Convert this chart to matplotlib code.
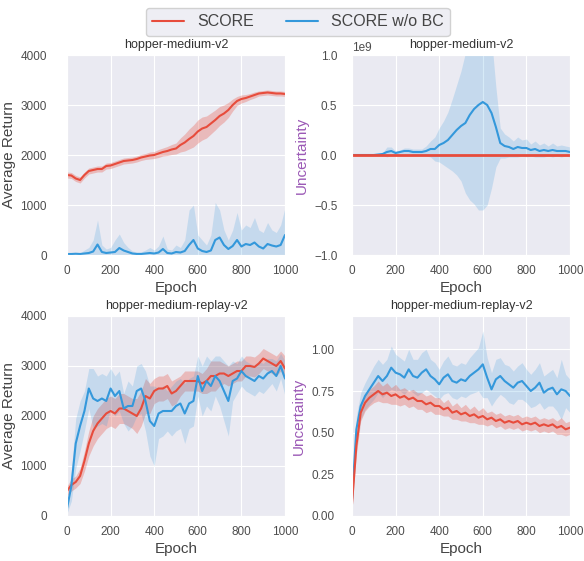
import numpy as np
import matplotlib
matplotlib.use("Agg")
import matplotlib.pyplot as plt
import seaborn as sns

sns.set_style("darkgrid")
plt.rcParams['font.family'] = ['Liberation Sans', 'DejaVu Sans']

RED = "#e74c3c"
BLUE = "#3498db"
PURPLE = "#9b59b6"

epochs = np.arange(0, 1001, 20)

# hopper-medium-v2, average return
hm_ret_score = [1600, 1590, 1530, 1500, 1600, 1680, 1700, 1720, 1720, 1780,
                1790, 1820, 1850, 1880, 1890, 1900, 1920, 1950, 1970, 1990,
                2000, 2030, 2060, 2080, 2110, 2130, 2200, 2250, 2320, 2380,
                2470, 2530, 2560, 2630, 2700, 2780, 2830, 2900, 3000, 3080,
                3120, 3140, 3170, 3200, 3230, 3240, 3250, 3240, 3230, 3230, 3220]
hm_ret_score_sd = [60, 60, 60, 60, 60, 60, 60, 60, 60, 60,
                   60, 60, 60, 60, 60, 60, 60, 60, 60, 70,
                   70, 80, 80, 90, 100, 110, 140, 170, 200, 220,
                   230, 230, 220, 210, 200, 190, 170, 150, 120, 90,
                   80, 70, 60, 60, 50, 50, 50, 50, 50, 50, 50]
hm_ret_nobc = [20, 20, 25, 20, 30, 40, 70, 210, 60, 40,
               50, 60, 140, 90, 60, 30, 20, 20, 30, 40,
               30, 50, 120, 40, 30, 60, 50, 80, 200, 300,
               130, 80, 60, 90, 300, 350, 200, 120, 180, 300,
               170, 220, 200, 250, 170, 130, 220, 190, 170, 200, 400]
hm_ret_nobc_sd = [20, 30, 25, 20, 70, 110, 230, 490, 140, 80,
                  100, 240, 280, 160, 90, 50, 40, 40, 70, 110,
                  70, 130, 260, 80, 70, 140, 100, 220, 700, 700,
                  270, 220, 140, 310, 750, 550, 300, 180, 320, 550,
                  330, 380, 350, 500, 330, 320, 430, 310, 280, 400, 550]

# hopper-medium-v2, uncertainty (x1e9)
hm_unc_score = [0.0] * 51
hm_unc_score_sd = [0.002] * 51
hm_unc_nobc = [0.0, 0.0, 0.0, 0.0, 0.0, 0.0, 0.005, 0.01, 0.03, 0.04,
               0.02, 0.03, 0.04, 0.04, 0.03, 0.03, 0.03, 0.04, 0.06, 0.06,
               0.10, 0.12, 0.15, 0.20, 0.25, 0.29, 0.32, 0.40, 0.46, 0.50,
               0.53, 0.50, 0.42, 0.28, 0.12, 0.09, 0.08, 0.06, 0.08, 0.07,
               0.07, 0.05, 0.06, 0.04, 0.05, 0.04, 0.05, 0.04, 0.04, 0.04, 0.03]
hm_unc_nobc_sd = [0.0, 0.0, 0.0, 0.0, 0.0, 0.0, 0.005, 0.01, 0.05, 0.04,
                  0.02, 0.02, 0.03, 0.03, 0.03, 0.03, 0.03, 0.05, 0.08, 0.12,
                  0.17, 0.22, 0.28, 0.36, 0.45, 0.55, 0.70, 0.85, 0.95, 1.05,
                  1.08, 1.00, 0.75, 0.40, 0.15, 0.12, 0.10, 0.08, 0.10, 0.08,
                  0.09, 0.06, 0.08, 0.06, 0.07, 0.05, 0.07, 0.05, 0.06, 0.05, 0.05]

# hopper-medium-replay-v2, average return
hmr_ret_score = [500, 620, 680, 800, 1100, 1450, 1700, 1850, 1950, 2050,
                 2100, 2050, 2150, 2150, 2100, 2050, 2000, 2150, 2400, 2350,
                 2500, 2550, 2550, 2600, 2450, 2500, 2600, 2700, 2700, 2700,
                 2700, 2650, 2700, 2800, 2800, 2850, 2850, 2800, 2850, 2900,
                 2900, 3000, 3000, 2980, 3050, 3150, 3100, 3050, 3000, 3100, 2950]
hmr_ret_score_sd = [100, 120, 120, 150, 200, 250, 300, 300, 300, 300,
                    300, 300, 300, 300, 300, 300, 350, 350, 350, 300,
                    250, 250, 250, 250, 250, 250, 200, 200, 200, 200,
                    200, 200, 250, 300, 300, 250, 200, 200, 200, 200,
                    200, 200, 200, 200, 200, 200, 200, 200, 200, 200, 250]
hmr_ret_nobc = [150, 600, 1450, 1800, 2100, 2550, 2350, 2300, 2350, 2300,
                2550, 2400, 2500, 2150, 2200, 2200, 2500, 2550, 2300, 1900,
                1800, 2050, 2100, 2100, 2100, 2200, 2250, 2050, 2250, 2300,
                2800, 2500, 2700, 2600, 2800, 2700, 2500, 2300, 2700, 2750,
                2900, 2800, 2750, 2700, 2800, 2750, 2850, 2900, 2800, 3000, 2750]
hmr_ret_nobc_sd = [100, 300, 500, 500, 400, 400, 600, 500, 500, 500,
                   400, 400, 400, 300, 500, 400, 500, 500, 600, 700,
                   800, 500, 500, 400, 500, 500, 500, 600, 500, 500,
                   400, 500, 500, 500, 400, 500, 600, 700, 400, 300,
                   300, 300, 300, 300, 300, 300, 300, 250, 300, 250, 350]

# hopper-medium-replay-v2, uncertainty
hmr_unc_score = [0.07, 0.42, 0.62, 0.68, 0.71, 0.73, 0.75, 0.73, 0.74, 0.72,
                 0.73, 0.71, 0.72, 0.70, 0.71, 0.69, 0.69, 0.67, 0.68, 0.66,
                 0.66, 0.64, 0.65, 0.62, 0.63, 0.61, 0.62, 0.60, 0.61, 0.59,
                 0.60, 0.58, 0.59, 0.57, 0.58, 0.56, 0.57, 0.56, 0.57, 0.55,
                 0.56, 0.55, 0.56, 0.54, 0.55, 0.54, 0.55, 0.53, 0.54, 0.52, 0.53]
hmr_unc_score_sd = [0.02, 0.05, 0.05, 0.05, 0.05, 0.05, 0.06, 0.05, 0.06, 0.05,
                    0.06, 0.05, 0.05, 0.05, 0.05, 0.05, 0.05, 0.05, 0.05, 0.05,
                    0.05, 0.04, 0.05, 0.04, 0.05, 0.04, 0.05, 0.04, 0.05, 0.04,
                    0.05, 0.04, 0.04, 0.04, 0.04, 0.04, 0.04, 0.04, 0.04, 0.04,
                    0.04, 0.04, 0.04, 0.04, 0.04, 0.04, 0.04, 0.04, 0.05, 0.04, 0.04]
hmr_unc_nobc = [0.10, 0.52, 0.66, 0.72, 0.76, 0.80, 0.84, 0.81, 0.84, 0.89,
                0.86, 0.85, 0.83, 0.88, 0.84, 0.83, 0.86, 0.88, 0.84, 0.82,
                0.79, 0.83, 0.85, 0.81, 0.80, 0.82, 0.81, 0.84, 0.86, 0.88,
                0.91, 0.83, 0.76, 0.82, 0.84, 0.81, 0.79, 0.77, 0.80, 0.81,
                0.78, 0.75, 0.77, 0.80, 0.74, 0.76, 0.77, 0.73, 0.76, 0.75, 0.72]
hmr_unc_nobc_sd = [0.03, 0.08, 0.08, 0.08, 0.09, 0.10, 0.10, 0.10, 0.10, 0.13,
                   0.11, 0.10, 0.10, 0.12, 0.10, 0.11, 0.12, 0.12, 0.10, 0.10,
                   0.09, 0.10, 0.11, 0.10, 0.10, 0.10, 0.10, 0.11, 0.12, 0.13,
                   0.20, 0.12, 0.10, 0.12, 0.11, 0.10, 0.11, 0.10, 0.10, 0.11,
                   0.10, 0.10, 0.11, 0.12, 0.10, 0.10, 0.11, 0.10, 0.18, 0.10, 0.10]


def draw(ax, mean, sd, color, alpha, scale=1.0, lw=1.5):
    m = np.array(mean) * scale
    s = np.array(sd) * scale
    ax.fill_between(epochs, m - s, m + s, color=color, alpha=alpha, lw=0)
    return ax.plot(epochs, m, color=color, lw=lw)[0]


fig = plt.figure(figsize=(5.84, 5.61), dpi=100)
W, H = 218 / 584, 200 / 561
ax1 = fig.add_axes([67 / 584, 306 / 561, W, H])
ax2 = fig.add_axes([352 / 584, 306 / 561, W, H])
ax3 = fig.add_axes([67 / 584, 45 / 561, W, H])
ax4 = fig.add_axes([352 / 584, 45 / 561, W, H])

l1 = draw(ax1, hm_ret_score, hm_ret_score_sd, RED, 0.3)
l2 = draw(ax1, hm_ret_nobc, hm_ret_nobc_sd, BLUE, 0.2)
draw(ax2, hm_unc_nobc, hm_unc_nobc_sd, BLUE, 0.2, scale=1e9)
draw(ax2, hm_unc_score, hm_unc_score_sd, RED, 0.3, scale=1e9, lw=2)
draw(ax3, hmr_ret_score, hmr_ret_score_sd, RED, 0.3)
draw(ax3, hmr_ret_nobc, hmr_ret_nobc_sd, BLUE, 0.2)
draw(ax4, hmr_unc_nobc, hmr_unc_nobc_sd, BLUE, 0.2)
draw(ax4, hmr_unc_score, hmr_unc_score_sd, RED, 0.3)

titles = ["hopper-medium-v2", "hopper-medium-v2",
          "hopper-medium-replay-v2", "hopper-medium-replay-v2"]
for ax, t in zip([ax1, ax2, ax3, ax4], titles):
    ax.set_xlim(0, 1000)
    ax.set_xticks([0, 200, 400, 600, 800, 1000])
    ax.set_title(t, fontsize=9, pad=5, color="#333333")
    ax.set_xlabel("Epoch", fontsize=11, labelpad=3, color="#444444")
    ax.tick_params(labelsize=8.5, colors="#4d4d4d")

for ax in [ax1, ax3]:
    ax.set_ylim(0, 4000)
    ax.set_yticks([0, 1000, 2000, 3000, 4000])
    ax.set_ylabel("Average Return", fontsize=11, labelpad=3, color="#444444")
    ax.tick_params(axis="y", pad=11)

ax2.set_ylim(-1e9, 1e9)
ax2.set_yticks([-1e9, -0.5e9, 0, 0.5e9, 1e9])
ax2.yaxis.get_offset_text().set_fontsize(8.5)
ax2.yaxis.get_offset_text().set_color("#4d4d4d")
ax2.tick_params(axis="y", pad=7)
ax4.set_ylim(0, 1.2)
ax4.set_yticks([0, 0.25, 0.5, 0.75, 1.0])
ax4.tick_params(axis="y", pad=9)
for ax in [ax2, ax4]:
    ax.set_ylabel("Uncertainty", fontsize=11, color=PURPLE)

leg = fig.legend([l1, l2], ["SCORE", "SCORE w/o BC"], loc="upper center",
                 bbox_to_anchor=(0.51, 1.0), ncol=2, fontsize=11.5,
                 frameon=True, handlelength=2.0, columnspacing=2.0)
leg.get_frame().set_facecolor("#eaeaf2")
leg.get_frame().set_edgecolor("#c8c8c8")
for txt in leg.get_texts():
    txt.set_color("#444444")

fig.savefig("out.png", dpi=100)
